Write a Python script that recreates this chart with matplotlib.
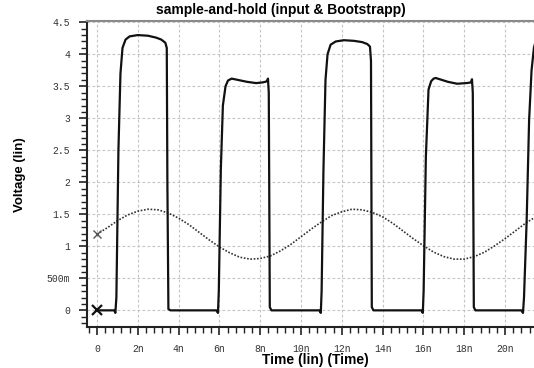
import numpy as np
import matplotlib.pyplot as plt
from matplotlib.ticker import MultipleLocator

# input sine (dotted), time in ns
t_in = [0.0, 0.5, 1.0, 1.5, 2.0, 2.5, 3.0, 3.5, 4.0, 4.5, 5.0, 5.5, 6.0, 6.5, 7.0, 7.5,
        8.0, 8.5, 9.0, 9.5, 10.0, 10.5, 11.0, 11.5, 12.0, 12.5, 13.0, 13.5, 14.0, 14.5,
        15.0, 15.5, 16.0, 16.5, 17.0, 17.5, 18.0, 18.5, 19.0, 19.5, 20.0, 20.5, 21.0, 21.5]
v_in = [1.19, 1.29, 1.40, 1.49, 1.55, 1.58, 1.57, 1.52, 1.44, 1.34, 1.22, 1.10, 0.99, 0.90,
        0.83, 0.80, 0.81, 0.85, 0.93, 1.03, 1.15, 1.27, 1.38, 1.48, 1.54, 1.58, 1.57, 1.53,
        1.46, 1.36, 1.24, 1.12, 1.01, 0.91, 0.84, 0.80, 0.80, 0.84, 0.91, 1.01, 1.12, 1.24,
        1.36, 1.46]

# bootstrapped gate voltage (solid)
t_bs = [0.0, 0.85, 0.9, 0.95, 1.05, 1.15, 1.25, 1.4, 1.6, 2.0, 2.5, 2.9, 3.15, 3.35, 3.42, 3.45, 3.5, 3.6,
        5.85, 5.93, 5.97, 6.07, 6.17, 6.3, 6.42, 6.6, 6.9, 7.35, 7.8, 8.1, 8.25, 8.33, 8.38, 8.42, 8.47, 8.55,
        10.9, 10.97, 11.01, 11.1, 11.2, 11.3, 11.45, 11.7, 12.1, 12.6, 13.0, 13.25, 13.38, 13.43, 13.47, 13.55,
        15.9, 15.97, 16.01, 16.12, 16.25, 16.38, 16.5, 16.6, 16.9, 17.2, 17.65, 18.1, 18.33, 18.38, 18.42, 18.47, 18.55,
        20.8, 20.88, 20.93, 21.06, 21.18, 21.3, 21.42, 21.5]
v_bs = [0.0, 0.0, -0.04, 0.2, 2.5, 3.7, 4.1, 4.23, 4.28, 4.30, 4.29, 4.26, 4.23, 4.18, 4.10, 2.0, 0.02, 0.0,
        0.0, -0.04, 0.3, 2.2, 3.2, 3.5, 3.59, 3.62, 3.60, 3.57, 3.55, 3.56, 3.57, 3.58, 3.62, 3.4, 0.05, 0.0,
        0.0, -0.04, 0.3, 2.2, 3.6, 4.0, 4.15, 4.20, 4.22, 4.21, 4.19, 4.16, 4.12, 3.9, 0.05, 0.0,
        0.0, -0.04, 0.3, 2.4, 3.45, 3.58, 3.62, 3.63, 3.60, 3.57, 3.54, 3.55, 3.56, 3.61, 3.4, 0.05, 0.0,
        0.0, -0.04, 0.2, 1.4, 2.97, 3.75, 4.11, 4.2]

x_ticks = [0, 2, 4, 6, 8, 10, 12, 14, 16, 18, 20]
x_labels = ['0', '2n', '4n', '6n', '8n', '10n', '12n', '14n', '16n', '18n', '20n']
y_ticks = [0, 0.5, 1, 1.5, 2, 2.5, 3, 3.5, 4, 4.5]
y_labels = ['0', '500m', '1', '1.5', '2', '2.5', '3', '3.5', '4', '4.5']

fig = plt.figure(figsize=(5.34, 3.68), dpi=100)
ax = fig.add_axes([87/534, 1 - 327/368, 1 - 87/534, (327 - 21)/368])

ax.plot(t_in, v_in, color='#333333', lw=1.2, linestyle=(0, (1, 1)))
ax.plot(t_bs, v_bs, color='#111111', lw=1.6, solid_joinstyle='round')
ax.plot([0], [0], marker='x', color='#111111', ms=7, mew=1.6)
ax.plot([0], [v_in[0]], marker='x', color='#555555', ms=6, mew=1.0)

ax.set_xlim(-0.49, 21.42)
ax.set_ylim(-0.26, 4.52)

ax.set_xticks(x_ticks)
ax.set_xticklabels(x_labels)
ax.set_yticks(y_ticks)
ax.set_yticklabels(y_labels)
ax.xaxis.set_minor_locator(MultipleLocator(0.4))
ax.yaxis.set_minor_locator(MultipleLocator(0.1))
ax.tick_params(which='major', length=6, width=1.2, color='#222222', pad=6,
               labelsize=7, labelcolor='#333333')
ax.tick_params(which='minor', length=4, width=1.0, color='#222222')
for lab in ax.get_xticklabels() + ax.get_yticklabels():
    lab.set_family('Liberation Mono')

ax.grid(True, which='major', color='#c4c4c4', lw=0.8, linestyle=(0, (2.5, 2)))

ax.spines['right'].set_visible(False)
ax.spines['top'].set_color('#8a8a8a')
ax.spines['top'].set_linewidth(1.5)
ax.spines['left'].set_linewidth(1.5)
ax.spines['bottom'].set_linewidth(1.5)
ax.spines['left'].set_color('#222222')
ax.spines['bottom'].set_color('#222222')

fig.text(281/534, 1 - 10/368, 'sample-and-hold (input & Bootstrapp)', ha='center', va='center',
         fontsize=10, fontweight='bold', family='Liberation Sans')
fig.text(315/534, 1 - 360/368, 'Time (lin) (Time)', ha='center', va='center',
         fontsize=10, fontweight='bold', family='Liberation Sans')
fig.text(20/534, 1 - 175/368, 'Voltage (lin)', ha='center', va='center', rotation=90,
         fontsize=9.5, fontweight='bold', family='Liberation Sans')

fig.savefig('out.png', dpi=100)
